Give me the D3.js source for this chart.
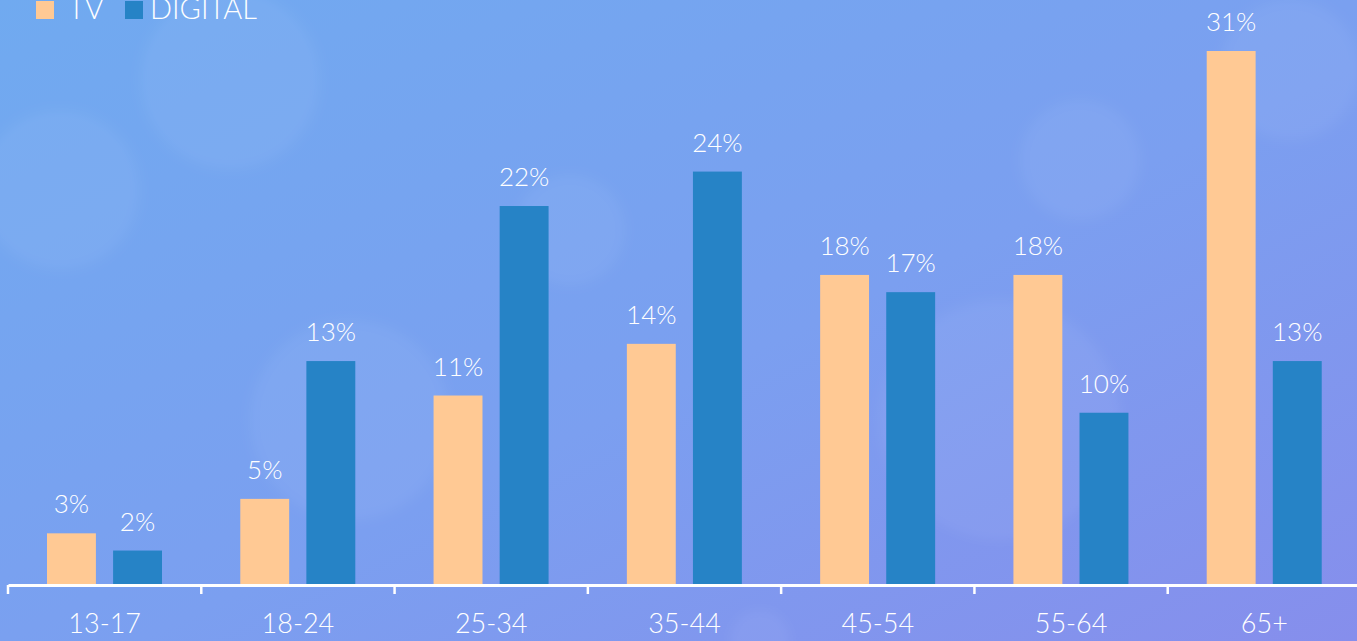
<!DOCTYPE html>
<html>
<head>
<meta charset="utf-8">
<script src="https://cdn.jsdelivr.net/npm/d3@7"></script>
<style>
  html, body { margin: 0; padding: 0; overflow: hidden; }
  svg { display: block; font-family: "Lato", "Open Sans", sans-serif; }
</style>
</head>
<body>
<svg id="chart" width="1357" height="641"></svg>
<script>
// données
const ageGroups = ['13-17', '18-24', '25-34', '35-44', '45-54', '55-64', '65+'];
const seriesNames = ['TV', 'DIGITAL'];
const tvValues = [3, 5, 11, 14, 18, 18, 31];
const digitalValues = [2, 13, 22, 24, 17, 10, 13];
const seriesColors = ['#ffc994', '#2683c6'];
const bubbles = [
  [60, 190, 80], [230, 80, 90], [570, 230, 55], [1080, 160, 60],
  [1290, 70, 70], [760, 640, 30], [1000, 420, 120], [350, 420, 100]
];

const W = 1357, H = 641;
const svg = d3.select('#chart');

// fond dégradé
const defs = svg.append('defs');
const grad = defs.append('linearGradient').attr('id', 'bg')
  .attr('x1', '0%').attr('y1', '0%').attr('x2', '100%').attr('y2', '100%');
grad.append('stop').attr('offset', '0%').attr('stop-color', '#70aaf0');
grad.append('stop').attr('offset', '55%').attr('stop-color', '#7b9ff0');
grad.append('stop').attr('offset', '100%').attr('stop-color', '#868eec');
svg.append('rect').attr('width', W).attr('height', H).attr('fill', 'url(#bg)');

const blur = defs.append('filter').attr('id', 'soft');
blur.append('feGaussianBlur').attr('stdDeviation', 6);
svg.append('g').attr('filter', 'url(#soft)')
  .selectAll('circle').data(bubbles).enter().append('circle')
  .attr('cx', d => d[0]).attr('cy', d => d[1]).attr('r', d => d[2])
  .attr('fill', '#ffffff').attr('fill-opacity', 0.05);

// échelles
const x0 = d3.scaleBand().domain(ageGroups).range([8, 1361]).paddingInner(0).paddingOuter(0);
const x1 = d3.scaleBand().domain(seriesNames).range([39, 154]).paddingInner(0.26);
const y = d3.scaleLinear().domain([0, 31]).range([585, 51]);

const rows = ageGroups.map((g, i) => ({ group: g, values: [tvValues[i], digitalValues[i]] }));

const groups = svg.append('g').selectAll('g').data(rows).enter().append('g')
  .attr('transform', d => `translate(${x0(d.group)},0)`);

groups.selectAll('rect').data(d => d.values.map((v, j) => ({ key: seriesNames[j], v, j })))
  .enter().append('rect')
  .attr('x', d => x1(d.key))
  .attr('y', d => y(d.v))
  .attr('width', x1.bandwidth())
  .attr('height', d => y(0) - y(d.v))
  .attr('fill', d => seriesColors[d.j]);

groups.selectAll('text').data(d => d.values.map((v, j) => ({ key: seriesNames[j], v, j })))
  .enter().append('text')
  .attr('x', d => x1(d.key) + x1.bandwidth() / 2)
  .attr('y', d => y(d.v) - 20)
  .attr('text-anchor', 'middle')
  .attr('fill', '#ffffff')
  .attr('font-size', 26)
  .attr('font-weight', 300)
  .text(d => d.v + '%');

// axe
const axis = svg.append('g').attr('transform', 'translate(0,585)')
  .call(d3.axisBottom(x0).tickSizeInner(0).tickSizeOuter(0).tickPadding(29));
axis.select('.domain').attr('stroke', '#ffffff').attr('stroke-width', 3);
axis.selectAll('.tick text').attr('fill', '#ffffff').attr('font-size', 27)
  .attr('font-weight', 300).attr('font-family', 'Lato, sans-serif');
axis.selectAll('.tick line').remove();
svg.append('g').selectAll('line').data(ageGroups).enter().append('line')
  .attr('x1', d => x0(d)).attr('x2', d => x0(d))
  .attr('y1', 585).attr('y2', 594)
  .attr('stroke', '#ffffff').attr('stroke-width', 2.5);

// légende
const legend = svg.append('g').selectAll('g').data(seriesNames).enter().append('g')
  .attr('transform', (d, i) => `translate(${i === 0 ? 36 : 125},0)`);
legend.append('rect').attr('x', 0).attr('y', 1).attr('width', 18).attr('height', 18)
  .attr('fill', (d, i) => seriesColors[i]);
legend.append('text').attr('x', (d, i) => i === 0 ? 32 : 25).attr('y', 19)
  .attr('fill', '#ffffff').attr('font-size', 29).attr('font-weight', 300)
  .text(d => d);
</script>
</body>
</html>
